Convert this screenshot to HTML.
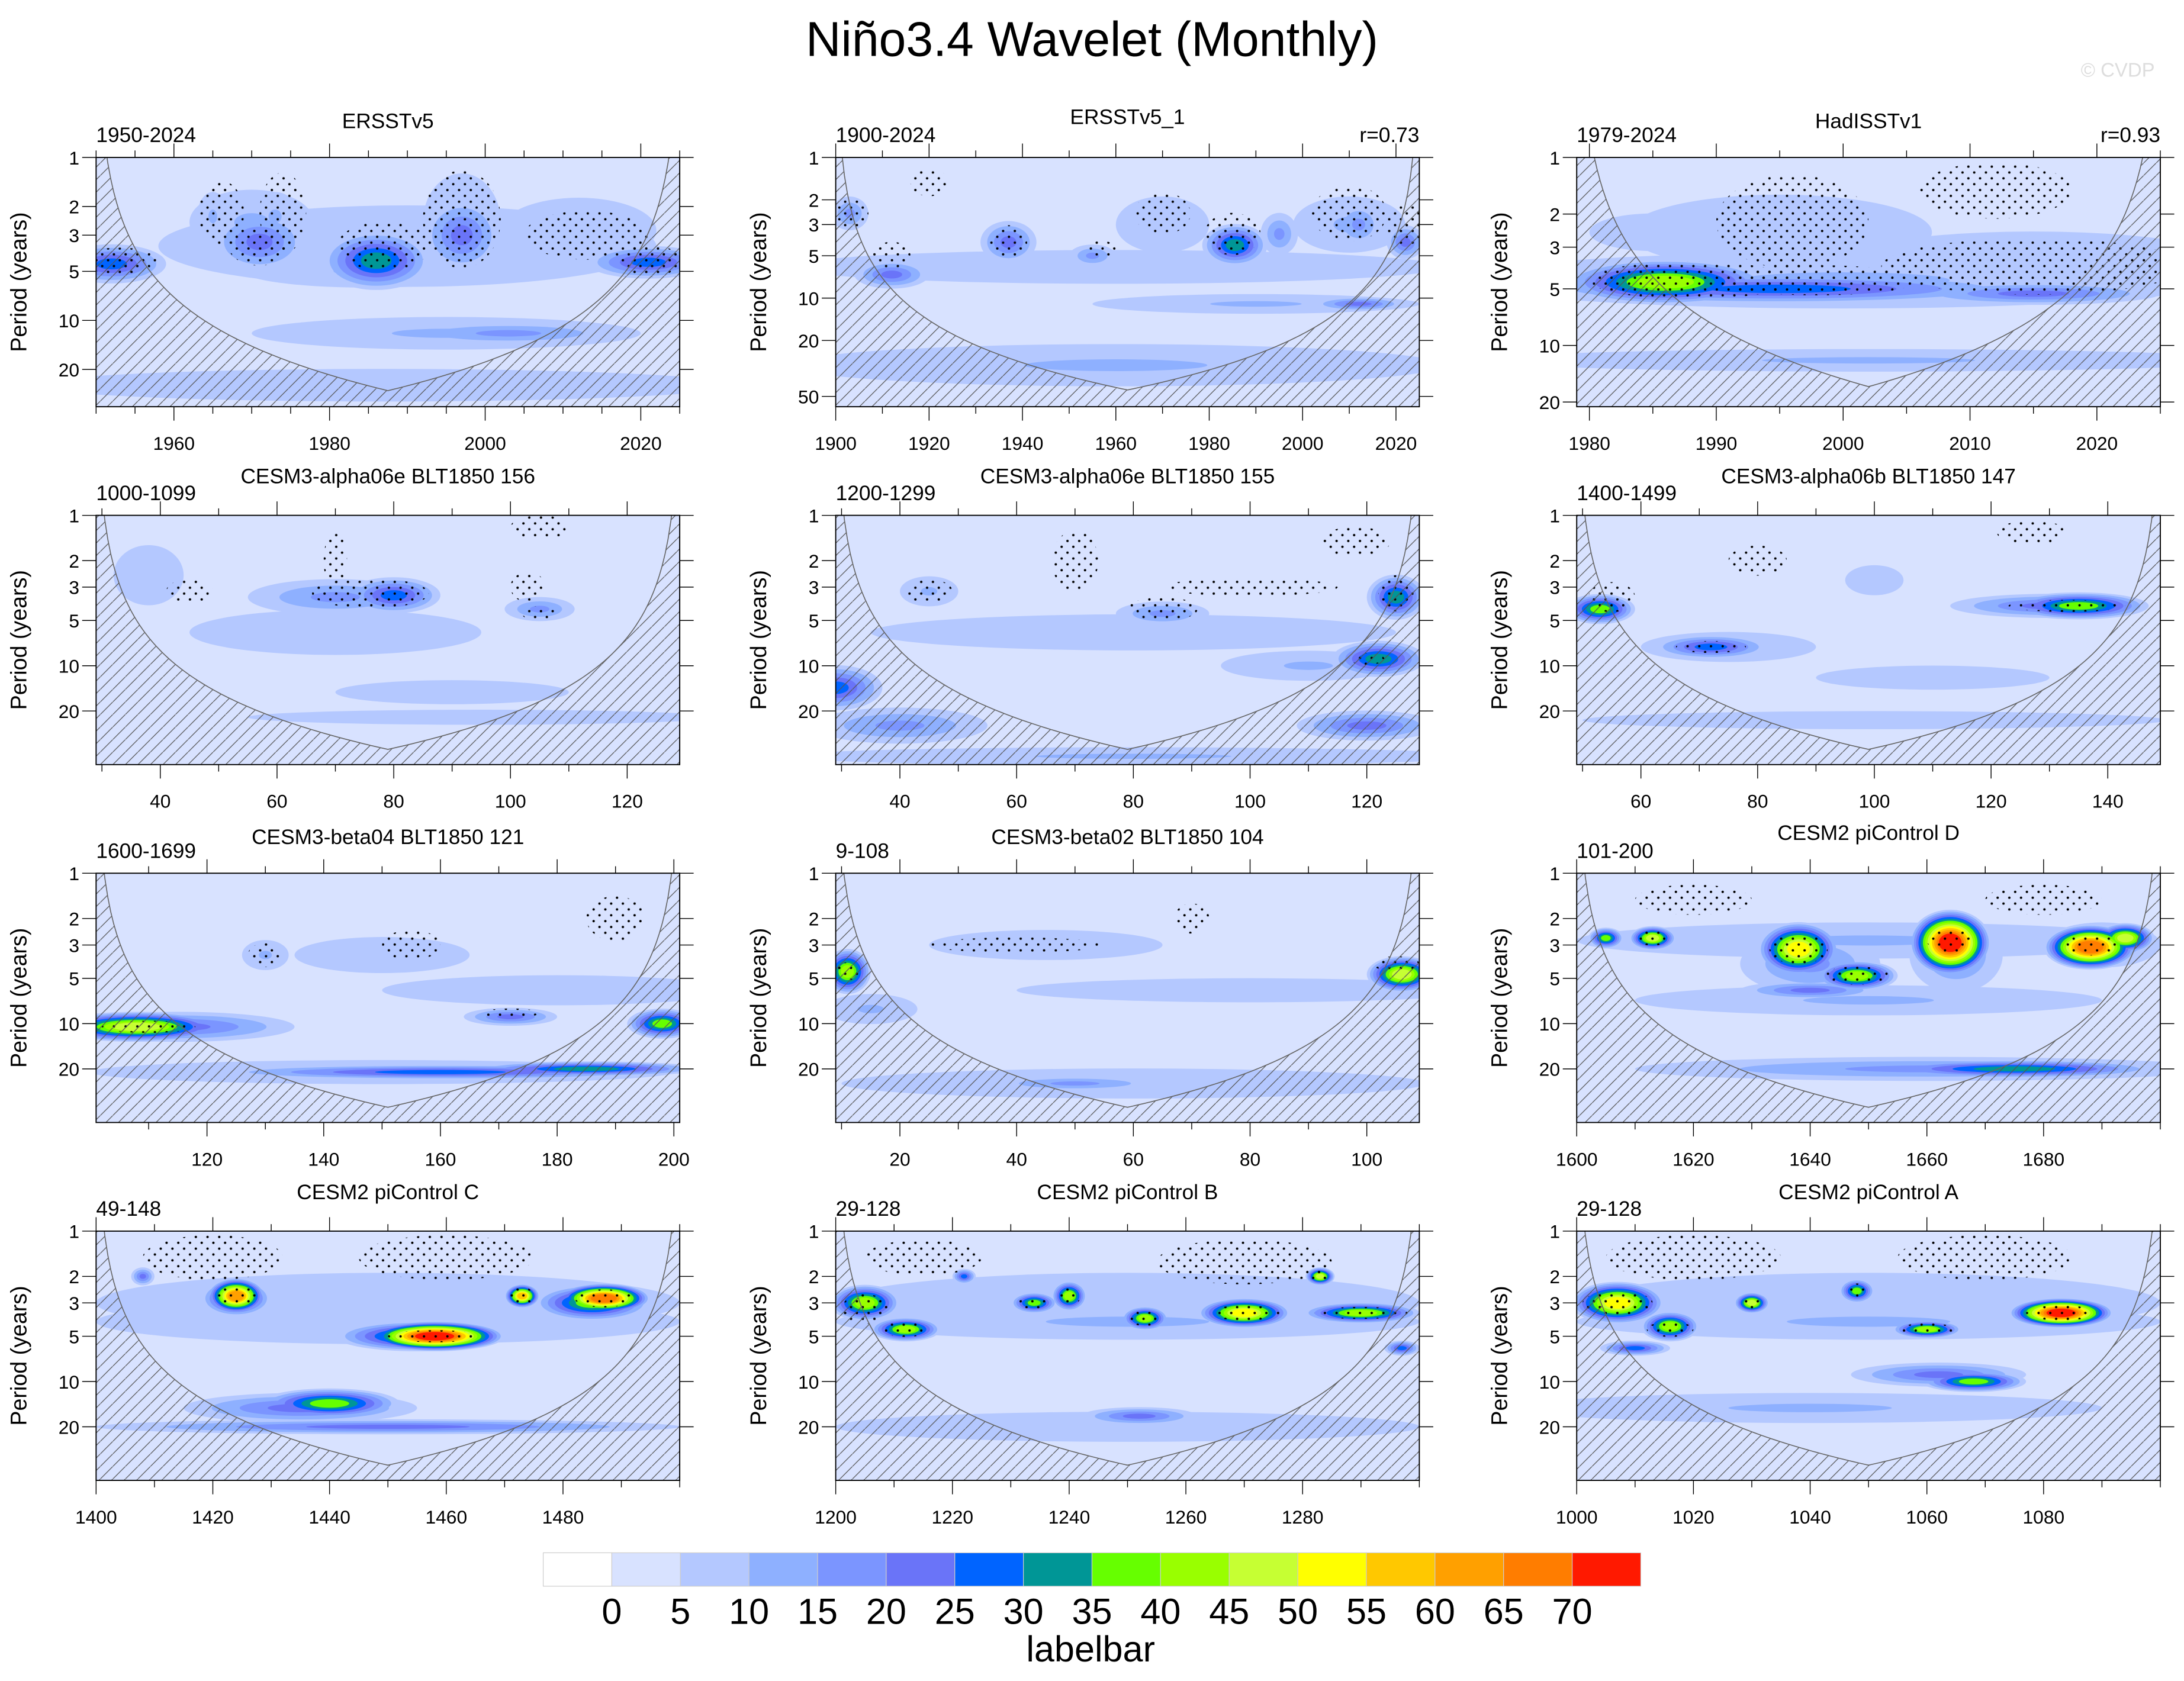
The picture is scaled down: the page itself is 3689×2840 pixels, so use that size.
<!DOCTYPE html>
<html><head><meta charset="utf-8"><style>
html,body{margin:0;padding:0;background:#fff;}
svg{display:block;font-family:"Liberation Sans",sans-serif;}
</style></head><body>
<svg id="chart" xmlns="http://www.w3.org/2000/svg" width="3689" height="2840" viewBox="0 0 1568 1207">
<defs>
<pattern id="hatch" patternUnits="userSpaceOnUse" width="9" height="9"><path d="M-1,10 L10,-1" stroke="#555" stroke-width="0.55"/></pattern>
<pattern id="dots" patternUnits="userSpaceOnUse" width="8.4" height="8.4"><circle cx="2" cy="2" r="0.85" fill="#000"/><circle cx="6.2" cy="6.2" r="0.85" fill="#000"/></pattern>
</defs>
<rect x="0" y="0" width="1568" height="1207" fill="#fff"/>
<text x="784" y="40" font-size="35" text-anchor="middle">Niño3.4 Wavelet (Monthly)</text>
<text x="1547" y="55" font-size="14" text-anchor="end" fill="#ddd">© CVDP</text>
<g id="panels"></g>
<g id="labelbar"></g>
<text x="783" y="1193" font-size="26" text-anchor="middle">labelbar</text>
</svg>
<script>
const levelColors = ["#ffffff","#d8e2ff","#b4c8ff","#8eb0ff","#7b95ff","#6a74f8","#0064ff","#009696","#66ff00","#99ff00","#c6ff33","#ffff00","#ffc800","#ffa000","#ff7d00","#ff1900"];
const levelLabels = ["0","5","10","15","20","25","30","35","40","45","50","55","60","65","70"];

// blobs: [time, period(yr), peak level, half-width (time units), half-height (decades)]
const blobs1 = [[1990,3.5,2,32,0.25],[1987,25,2,45,0.1],[1970,2.5,3,8,0.2],[1997,2.5,3,5,0.3],[2012,2.8,2,10,0.2],[1985,5,3,16,0.1],[1995,12,3,25,0.1],[1952,4.5,6,7,0.12],[1971,3.3,5,6,0.18],[1986,4.3,7,7,0.18],[1997,3,5,5,0.22],[2021,4.4,6,8,0.1],[2003,12,4,15,0.07],[1973,2.3,3,3,0.15],[1965,2.3,3,2,0.15]];
const blobs2 = [[1960,30,3,70,0.15],[1960,6,2,70,0.12],[1970,3,2,10,0.2],[2010,3,3,12,0.2],[1903,2.5,4,4,0.12],[1912,6.8,5,8,0.1],[1937,4,5,6,0.15],[1955,5,4,5,0.08],[1985.5,4.2,7,7,0.15],[1995,3.5,4,4,0.15],[2012,3,4,5,0.15],[2022,4,5,4,0.12],[1990,11,3,35,0.07],[2012,11,5,10,0.05]];
const blobs3 = [[2000,4.5,3,30,0.15],[2002,12,3,30,0.06],[1995,2.5,2,12,0.2],[2015,3.5,2,15,0.15],[1985,2.5,2,5,0.1],[1995,5,6,20,0.08],[2015,5.3,5,10,0.06],[1986,4.6,9,8,0.12]];
const blobs4 = [[70,6,2,25,0.15],[90,15,2,20,0.08],[95,22,2,40,0.05],[38,2.5,2,6,0.2],[70,3.5,4,15,0.12],[80,3.4,6,8,0.12],[105,4.2,4,6,0.08]];
const blobs5 = [[80,6,2,45,0.12],[80,40,3,60,0.06],[40,25,4,15,0.12],[110,10,3,15,0.1],[45,3.2,3,5,0.1],[85,4.5,4,8,0.08],[29,14,6,8,0.15],[120,25,5,12,0.1],[125,3.5,7,5,0.15],[122,9,7,8,0.12]];
const blobs6 = [[110,12,2,20,0.08],[100,23,2,50,0.06],[100,2.7,2,5,0.1],[75,7.5,3,15,0.1],[130,4,5,17,0.08],[72,7.5,6,10,0.08],[53,4.2,8,6,0.1],[135,4,8,12,0.09]];
const blobs7 = [[150,21,3,50,0.08],[150,3.5,2,15,0.12],[180,6,2,30,0.1],[130,3.5,3,4,0.1],[115,10.5,5,20,0.1],[160,21,6,40,0.05],[172,9,5,8,0.06],[185,20,7,20,0.05],[198,10,8,6,0.1],[108,10.5,10,15,0.1]];
const blobs8 = [[45,3,2,20,0.1],[60,25,2,50,0.1],[80,6,2,40,0.08],[15,8,3,8,0.1],[50,25,4,15,0.05],[11,4.5,9,4,0.15],[106,4.7,10,6,0.12]];
const blobs9 = [[1650,2.8,3,50,0.12],[1650,7,3,40,0.1],[1660,20,4,50,0.08],[1640,4,4,12,0.2],[1690,3,4,10,0.15],[1665,3.5,4,8,0.25],[1640,6,5,12,0.06],[1675,20,7,25,0.06],[1605,2.7,8,3,0.07],[1648,4.8,9,7,0.1],[1613,2.7,10,4,0.08],[1694,2.7,10,5,0.1],[1638,3.2,11,7,0.18],[1688,3.1,14,8,0.15],[1664,2.9,15,7,0.22]];
const blobs10 = [[1450,4,2,50,0.15],[1450,3,2,50,0.2],[1435,15,5,20,0.1],[1450,20,5,50,0.05],[1408,2,5,2,0.06],[1440,14,8,12,0.1],[1455,5,8,14,0.1],[1424,2.8,8,6,0.12],[1485,3,8,10,0.12],[1424,2.7,13,5,0.12],[1473,2.7,12,3,0.08],[1487,2.8,14,8,0.1],[1458,5,15,12,0.1]];
const blobs11 = [[1250,4,3,50,0.12],[1250,3,2,50,0.2],[1250,20,2,50,0.1],[1252,17,5,10,0.06],[1222,2,6,2,0.05],[1297,6,6,3,0.05],[1205,3,9,6,0.12],[1212,4.5,9,6,0.08],[1234,3,8,4,0.07],[1240,2.7,9,3,0.1],[1253,3.8,9,4,0.08],[1290,3.5,9,10,0.07],[1283,2,10,2.5,0.06],[1270,3.5,11,8,0.1]];
const blobs12 = [[1050,4,3,50,0.12],[1050,3,2,50,0.2],[1040,15,3,50,0.1],[1062,9,5,15,0.08],[1010,6,6,6,0.05],[1068,10,8,9,0.07],[1048,2.5,8,3,0.08],[1016,4.3,9,5,0.1],[1060,4.5,9,6,0.06],[1030,3,10,3,0.07],[1007,3,11,8,0.14],[1083,3.5,15,9,0.1]];

// significance stipple regions: [time, period, half-width, half-height(decades)]
const stip1 = [[1966,2.2,3,0.2],[1974,2.2,3,0.25],[1987,3.5,6,0.15],[1997,2.4,5,0.3],[2013,3,8,0.15],[2021,4.3,4,0.1],[1953,4.3,5,0.08],[1971,3.5,4,0.12]];
const stip2 = [[1903,2.5,4,0.1],[1912,5,4,0.1],[1937,4,4,0.12],[1957,4.5,3,0.06],[1985,3.5,6,0.15],[1970,2.5,6,0.15],[2010,2.5,8,0.2],[2022,3,4,0.15],[1920,1.5,4,0.1]];
const stip3 = [[1988,4.5,8,0.1],[1998,4.5,8,0.08],[1996,2.2,6,0.25],[2015,3.8,12,0.15],[2012,1.5,6,0.15]];
const stip4 = [[76,3.3,10,0.1],[70,2,2,0.2],[103,3,3,0.1],[105,4.5,3,0.05],[45,3.2,4,0.08],[105,1.2,5,0.08]];
const stip5 = [[45,3.2,4,0.08],[85,4.2,6,0.08],[100,3,15,0.06],[125,3.3,3,0.12],[120,9,3,0.04],[70,2,4,0.2],[118,1.5,6,0.1]];
const stip6 = [[55,3.5,4,0.1],[133,4,10,0.04],[72,7.5,6,0.04],[80,2,5,0.1],[127,1.3,6,0.08]];
const stip7 = [[110,10.5,8,0.04],[130,3.5,3,0.08],[155,3,5,0.1],[172,8.5,5,0.03],[190,2,5,0.15]];
const stip8 = [[11,4.5,2,0.06],[40,3,15,0.05],[105,4,4,0.05],[70,2,3,0.1]];
const stip9 = [[1664,2.8,4,0.08],[1688,3,5,0.07],[1638,3.2,5,0.1],[1613,2.7,3,0.05],[1648,4.8,6,0.06],[1620,1.5,10,0.1],[1680,1.5,10,0.1]];
const stip10 = [[1458,5,8,0.04],[1424,2.7,4,0.06],[1473,2.7,2,0.06],[1487,2.8,5,0.06],[1420,1.5,12,0.15],[1460,1.5,15,0.15]];
const stip11 = [[1205,3.3,4,0.1],[1212,4.5,4,0.05],[1234,3,3,0.04],[1240,2.7,2,0.06],[1253,3.8,3,0.05],[1270,3.5,6,0.05],[1283,2,2,0.04],[1290,3.5,8,0.04],[1215,1.5,10,0.12],[1270,1.6,15,0.15]];
const stip12 = [[1083,3.5,6,0.05],[1007,3,6,0.08],[1016,4.5,4,0.05],[1030,3,2,0.04],[1048,2.5,2,0.05],[1060,4.5,5,0.04],[1020,1.5,15,0.15],[1070,1.5,15,0.15]];

const xt1=[1960,1980,2000,2020], xt2=[1900,1920,1940,1960,1980,2000,2020], xt3=[1980,1990,2000,2010,2020];
const xt4=[40,60,80,100,120], xt5=[40,60,80,100,120], xt6=[60,80,100,120,140];
const xt7=[120,140,160,180,200], xt8=[20,40,60,80,100], xt9=[1600,1620,1640,1660,1680];
const xt10=[1400,1420,1440,1460,1480], xt11=[1200,1220,1240,1260,1280], xt12=[1000,1020,1040,1060,1080];
const ytStd=[1,2,3,5,10,20], ytLong=[1,2,3,5,10,20,50];
const panelTitles=["ERSSTv5","ERSSTv5_1","HadISSTv1","CESM3-alpha06e BLT1850 156","CESM3-alpha06e BLT1850 155","CESM3-alpha06b BLT1850 147","CESM3-beta04 BLT1850 121","CESM3-beta02 BLT1850 104","CESM2 piControl D","CESM2 piControl C","CESM2 piControl B","CESM2 piControl A"];
const panelYears=["1950-2024","1900-2024","1979-2024","1000-1099","1200-1299","1400-1499","1600-1699","9-108","101-200","49-148","29-128","29-128"];
const panelCorr=["","r=0.73","r=0.93","","","","","","","","",""];

const colX=[69,600,1132], rowY=[113,370,627,884], PW=419, PH=179;
const panels=[
 {c:0,r:0,t0:1950,t1:2025,ppd:117,xt:xt1,yt:ytStd,b:blobs1,s:stip1,xm:5,ty:92},
 {c:1,r:0,t0:1900,t1:2025,ppd:101,xt:xt2,yt:ytLong,b:blobs2,s:stip2,xm:10,ty:89},
 {c:2,r:0,t0:1979,t1:2025,ppd:135,xt:xt3,yt:ytStd,b:blobs3,s:stip3,xm:5,ty:92},
 {c:0,r:1,t0:29,t1:129,ppd:108,xt:xt4,yt:ytStd,b:blobs4,s:stip4,xm:10,ty:347},
 {c:1,r:1,t0:29,t1:129,ppd:108,xt:xt5,yt:ytStd,b:blobs5,s:stip5,xm:10,ty:347},
 {c:2,r:1,t0:49,t1:149,ppd:108,xt:xt6,yt:ytStd,b:blobs6,s:stip6,xm:10,ty:347},
 {c:0,r:2,t0:101,t1:201,ppd:108,xt:xt7,yt:ytStd,b:blobs7,s:stip7,xm:10,ty:606},
 {c:1,r:2,t0:9,t1:109,ppd:108,xt:xt8,yt:ytStd,b:blobs8,s:stip8,xm:10,ty:606},
 {c:2,r:2,t0:1600,t1:1700,ppd:108,xt:xt9,yt:ytStd,b:blobs9,s:stip9,xm:10,ty:603},
 {c:0,r:3,t0:1400,t1:1500,ppd:108,xt:xt10,yt:ytStd,b:blobs10,s:stip10,xm:10,ty:861},
 {c:1,r:3,t0:1200,t1:1300,ppd:108,xt:xt11,yt:ytStd,b:blobs11,s:stip11,xm:10,ty:861},
 {c:2,r:3,t0:1000,t1:1100,ppd:108,xt:xt12,yt:ytStd,b:blobs12,s:stip12,xm:10,ty:861}
];
const NS="http://www.w3.org/2000/svg";
function mk(tag,attrs,parent){const e=document.createElementNS(NS,tag);for(const k in attrs)e.setAttribute(k,attrs[k]);if(parent)parent.appendChild(e);return e;}
const root=document.getElementById('panels');
panels.forEach((P,i)=>{
 const x0=colX[P.c], y0=rowY[P.r];
 const X=t=>x0+(t-P.t0)/(P.t1-P.t0)*PW;
 const Y=p=>y0+P.ppd*Math.log10(p);
 const g=mk('g',{},root);
 
 
 const cp=mk('clipPath',{id:'clip'+i},g);
 mk('rect',{x:x0,y:y0,width:PW,height:PH},cp);
 const inner=mk('g',{'clip-path':'url(#clip'+i+')'},g);
 const bg=mk('rect',{x:x0,y:y0,width:PW,height:PH,fill:levelColors[1]},inner);
 
 
 const ells=[];
 P.b.forEach(b=>{const L=b[2];for(let k=2;k<=L;k++){const s=L>2?1-0.72*(k-2)/(L-2):1;ells.push({k,cx:X(b[0]),cy:Y(b[1]),rx:b[3]/(P.t1-P.t0)*PW*s,ry:b[4]*P.ppd*s});}});
 ells.sort((a,b)=>a.k-b.k);
 ells.forEach(e=>{const el=mk('ellipse',{cx:e.cx,cy:e.cy,rx:Math.max(e.rx,1),ry:Math.max(e.ry,1),fill:levelColors[e.k]},inner);
  
  });
 P.s.forEach(s=>{const el=mk('ellipse',{cx:X(s[0]),cy:Y(s[1]),rx:s[2]/(P.t1-P.t0)*PW,ry:s[3]*P.ppd,fill:'url(#dots)'},inner);
  
  });
 let pts=[];
 for(let j=0;j<=200;j++){const t=P.t0+(P.t1-P.t0)*j/200;const d=Math.min(t-P.t0,P.t1-t);const p=Math.max(0.72*d,0.3);const y=Math.min(Y(p),y0+PH+2);pts.push(X(t).toFixed(2)+','+y.toFixed(2));}
 const poly=mk('polygon',{points:pts.join(' ')+' '+(x0+PW)+','+(y0+PH+2)+' '+x0+','+(y0+PH+2),fill:'url(#hatch)'},inner);
 
 
 const pl=mk('polyline',{points:pts.join(' '),fill:'none',stroke:'#666','stroke-width':0.7},inner);
 
 
 const fr=mk('rect',{x:x0,y:y0,width:PW,height:PH,fill:'none',stroke:'#000','stroke-width':0.8},g);
 
 
 const ax=mk('g',{stroke:'#000','stroke-width':0.6},g);
 
 
 for(let t=Math.ceil(P.t0/P.xm)*P.xm;t<=P.t1;t+=P.xm){const x=X(t);const major=P.xt.indexOf(t)>=0;const L=major?10:5;
  mk('line',{x1:x,y1:y0+PH,x2:x,y2:y0+PH+L},ax);mk('line',{x1:x,y1:y0,x2:x,y2:y0-L},ax);}
 P.xt.forEach(t=>{const tx=mk('text',{x:X(t),y:y0+PH+31,'font-size':13.5,'text-anchor':'middle',stroke:'none'},g);tx.textContent=t;
  
  });
 P.yt.forEach(p=>{const y=Y(p);mk('line',{x1:x0-10,y1:y,x2:x0,y2:y},ax);mk('line',{x1:x0+PW,y1:y,x2:x0+PW+10,y2:y},ax);
  const tx=mk('text',{x:x0-12,y:y+5,'font-size':13.5,'text-anchor':'end'},g);tx.textContent=p;
  
  });
 const yl=mk('text',{x:0,y:0,'font-size':16,'text-anchor':'middle',transform:'translate('+(x0-50)+','+(y0+PH/2)+') rotate(-90)'},g);
 yl.textContent='Period (years)';
 
 
 const ti=mk('text',{x:x0+PW/2,y:P.ty,'font-size':15,'text-anchor':'middle'},g);ti.textContent=panelTitles[i];
 
 
 const ll=mk('text',{x:x0,y:y0-11,'font-size':15},g);ll.textContent=panelYears[i];
 
 
 if(panelCorr[i]){const rl=mk('text',{x:x0+PW,y:y0-11,'font-size':15,'text-anchor':'end'},g);rl.textContent=panelCorr[i];
  
  }
});
const lb=document.getElementById('labelbar');
const bw=49.25;
levelColors.forEach((c,i)=>{const r=mk('rect',{x:390+i*bw,y:1115,width:bw,height:24,fill:c,stroke:'#ccc','stroke-width':0.5},lb);
 
 });
levelLabels.forEach((l,i)=>{const t=mk('text',{x:390+(i+1)*bw,y:1166,'font-size':26,'text-anchor':'middle'},lb);t.textContent=l;
 
 });
</script>
</body></html>
